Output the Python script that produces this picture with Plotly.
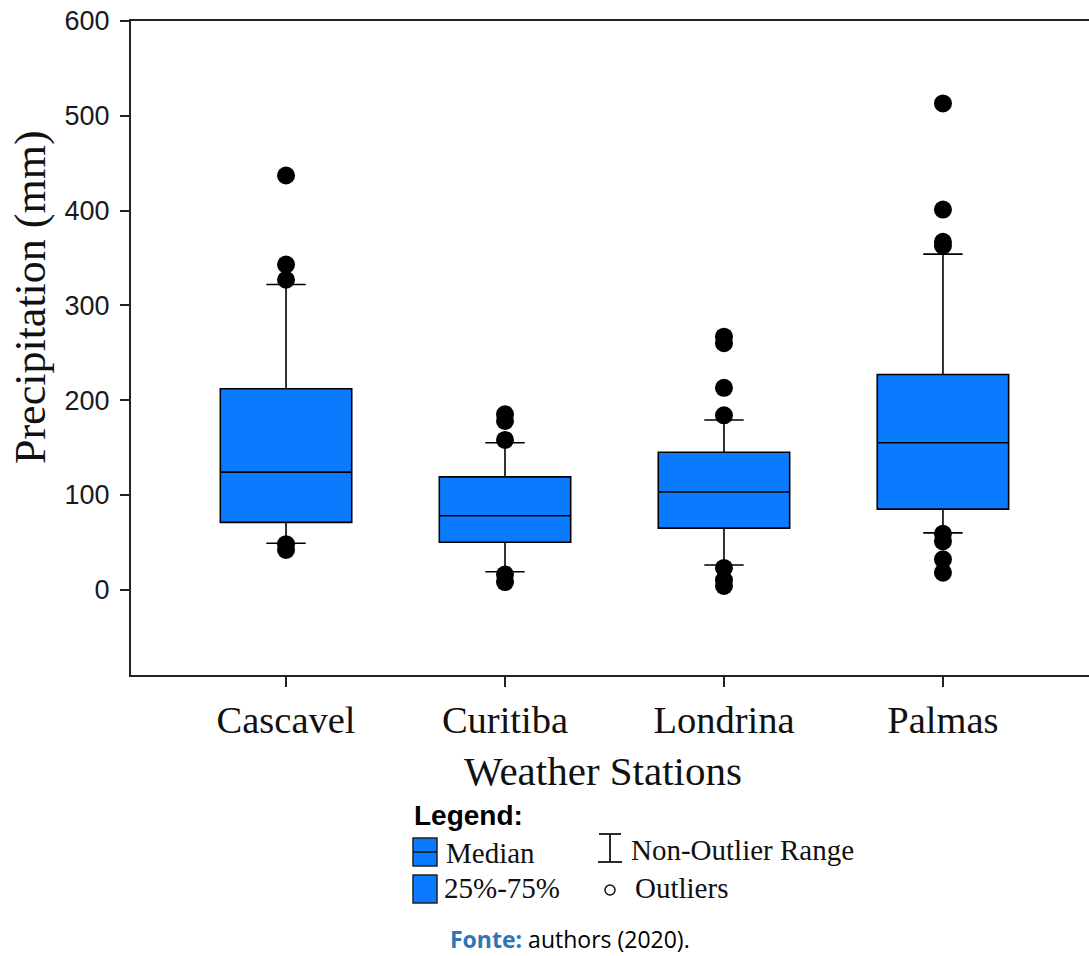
import plotly.graph_objects as go

stations = ["Cascavel", "Curitiba", "Londrina", "Palmas"]
q1 = [71, 50, 65, 85]
median = [124, 78, 103, 155]
q3 = [212, 119, 145, 227]
lower_whisker = [49, 19, 26, 60]
upper_whisker = [322, 155, 179, 354]

outlier_station = (["Cascavel"] * 5 + ["Curitiba"] * 5 + ["Londrina"] * 7 + ["Palmas"] * 8)
outlier_values = [437, 343, 327, 48, 42,
                  185, 178, 158, 16, 8,
                  267, 260, 213, 184, 23, 10, 4,
                  513, 401, 367, 363, 59, 51, 32, 18]

yticks = [0, 100, 200, 300, 400, 500, 600]

W, H = 1089, 956
L, R, T, B = 131, 1089, 21, 675

def px(x):
    return (x - L) / (R - L)

def py(y):
    return (B - y) / (B - T)

BLUE = "#0A7BFF"
SERIF = "Liberation Serif"

fig = go.Figure()
fig.add_trace(go.Box(
    x=stations, q1=q1, median=median, q3=q3,
    lowerfence=lower_whisker, upperfence=upper_whisker,
    boxpoints=False, fillcolor=BLUE,
    line=dict(color="black", width=1.6),
    width=0.6, whiskerwidth=0.3, showlegend=False,
))
fig.add_trace(go.Scatter(
    x=outlier_station, y=outlier_values, mode="markers",
    marker=dict(color="black", size=18), showlegend=False,
))

fig.update_layout(
    width=W, height=H, autosize=False,
    margin=dict(l=L, r=W - R, t=T, b=H - B),
    plot_bgcolor="white", paper_bgcolor="white",
    xaxis=dict(
        type="category", range=[-0.708, 3.667],
        showline=True, mirror=True, linecolor="#222", linewidth=2,
        ticks="outside", ticklen=10, tickwidth=1.5, tickcolor="#222",
        tickfont=dict(family=SERIF, size=38.5, color="#111"),
        showgrid=False, zeroline=False,
    ),
    yaxis=dict(
        range=[-90, 600], tickvals=yticks,
        showline=True, linecolor="#222", linewidth=2,
        ticks="outside", ticklen=9, tickwidth=1.5, tickcolor="#222",
        ticklabelstandoff=5,
        tickfont=dict(family="Liberation Sans", size=27, color="#1a1a1a"),
        showgrid=False, zeroline=False,
    ),
)

annotations = [
    dict(text="Weather Stations", x=px(603), y=py(771), font=dict(family=SERIF, size=41, color="#111")),
    dict(text="Precipitation (mm)", x=px(30), y=py(297), textangle=-90, font=dict(family=SERIF, size=44, color="#111")),
    dict(text="<b>Legend:</b>", x=px(412), y=py(815), xanchor="left", font=dict(family="Liberation Sans", size=28, color="black")),
    dict(text="Median", x=px(444), y=py(853), xanchor="left", font=dict(family=SERIF, size=29, color="#111")),
    dict(text="25%-75%", x=px(442), y=py(888), xanchor="left", font=dict(family=SERIF, size=29, color="#111")),
    dict(text="Non-Outlier Range", x=px(629), y=py(850), xanchor="left", font=dict(family=SERIF, size=29, color="#111")),
    dict(text="Outliers", x=px(633), y=py(888), xanchor="left", font=dict(family=SERIF, size=29, color="#111")),
    dict(text="<b><span style='color:#2E75B6'>Fonte:</span></b> authors (2020).", x=px(570), y=py(939),
         font=dict(family="Open Sans", size=23, color="black")),
]
for a in annotations:
    a.setdefault("xanchor", "center")
    fig.add_annotation(xref="paper", yref="paper", yanchor="middle", showarrow=False, **a)

def rect(x0, y0, x1, y1, **kw):
    fig.add_shape(type="rect", xref="paper", yref="paper", x0=px(x0), x1=px(x1), y0=py(y0), y1=py(y1), **kw)

def line(x0, y0, x1, y1, width=1.8):
    fig.add_shape(type="line", xref="paper", yref="paper", x0=px(x0), x1=px(x1), y0=py(y0), y1=py(y1),
                  line=dict(color="#111", width=width))

rect(413, 838, 437, 866, fillcolor=BLUE, line=dict(color="#222", width=1.5))
line(413, 852, 437, 852, 1.5)
rect(413, 875, 437, 903, fillcolor=BLUE, line=dict(color="#222", width=1.5))
# non-outlier range symbol
line(610, 834, 610, 862)
line(599, 834, 621, 834)
line(598, 862, 622, 862)
# outlier symbol
fig.add_shape(type="circle", xref="paper", yref="paper", x0=px(605), x1=px(615), y0=py(885), y1=py(895),
              line=dict(color="#111", width=1.5))

fig.write_html("out.html", config={"displayModeBar": False},
               post_script="document.body.style.margin='0';document.body.style.overflow='hidden';")
